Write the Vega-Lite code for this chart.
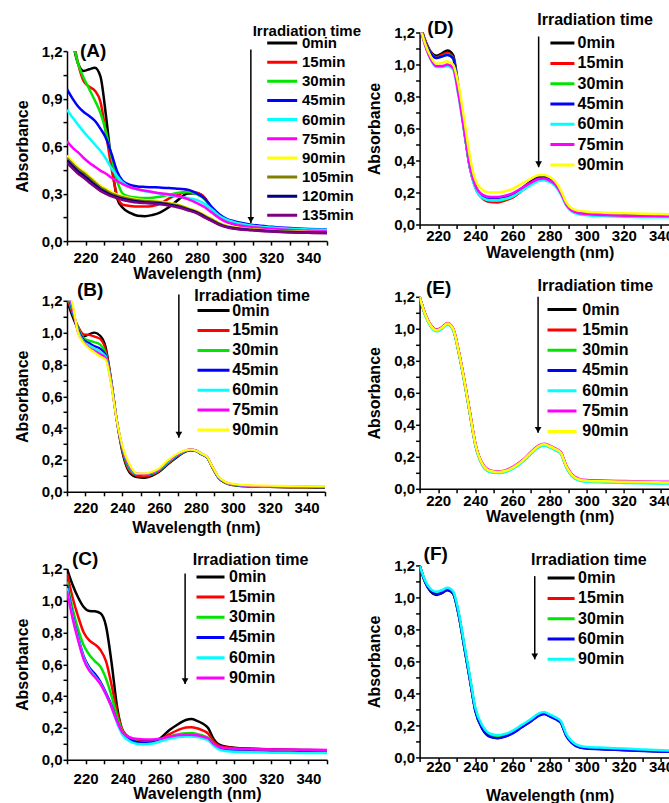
{
"$schema": "https://vega.github.io/schema/vega-lite/v6.json",
"padding": {"left": 14, "top": 11.5, "right": 0, "bottom": 0},
"config": {
  "font": "Liberation Sans",
  "view": {"stroke": null},
  "axis": {"grid": false, "domainColor": "#000000", "domainWidth": 1.5, "tickColor": "#000000", "tickWidth": 1.5, "tickSize": 4, "tickCount": 40, "labelFont": "Liberation Sans", "labelFontSize": 15, "labelFontWeight": "bold", "labelColor": "#000000", "titleFont": "Liberation Sans", "titleFontSize": 16, "titleFontWeight": "bold", "titleColor": "#000000", "labelOverlap": false, "labelFlush": false},
  "legend": {"padding": 0, "labelFont": "Liberation Sans", "labelFontWeight": "bold", "labelColor": "#000000", "titleFont": "Liberation Sans", "titleFontWeight": "bold", "titleColor": "#000000", "symbolType": "stroke", "symbolStrokeWidth": 3},
  "title": {"font": "Liberation Sans", "fontSize": 19, "fontWeight": "bold", "color": "#000000", "anchor": "start", "frame": "group", "baseline": "middle"}
},
"datasets": {
"A": [
{"t":"0min","w":210,"a":1.6},{"t":"0min","w":213,"a":1.28},{"t":"0min","w":216,"a":1.12},{"t":"0min","w":219,"a":1.075},{"t":"0min","w":222,"a":1.085},{"t":"0min","w":225,"a":1.095},{"t":"0min","w":228,"a":1.04},{"t":"0min","w":231,"a":0.79},{"t":"0min","w":234,"a":0.49},{"t":"0min","w":237,"a":0.27},{"t":"0min","w":240,"a":0.21},{"t":"0min","w":244,"a":0.178},{"t":"0min","w":248,"a":0.16},{"t":"0min","w":252,"a":0.157},{"t":"0min","w":256,"a":0.165},{"t":"0min","w":260,"a":0.18},{"t":"0min","w":265,"a":0.215},{"t":"0min","w":270,"a":0.262},{"t":"0min","w":275,"a":0.3},{"t":"0min","w":280,"a":0.302},{"t":"0min","w":284,"a":0.275},{"t":"0min","w":288,"a":0.205},{"t":"0min","w":292,"a":0.152},{"t":"0min","w":296,"a":0.123},{"t":"0min","w":300,"a":0.108},{"t":"0min","w":310,"a":0.088},{"t":"0min","w":320,"a":0.078},{"t":"0min","w":330,"a":0.07},{"t":"0min","w":340,"a":0.065},{"t":"0min","w":350,"a":0.061},
{"t":"15min","w":210,"a":1.5},{"t":"15min","w":213,"a":1.3},{"t":"15min","w":216,"a":1.12},{"t":"15min","w":219,"a":1.01},{"t":"15min","w":222,"a":0.975},{"t":"15min","w":225,"a":0.95},{"t":"15min","w":228,"a":0.88},{"t":"15min","w":231,"a":0.68},{"t":"15min","w":234,"a":0.46},{"t":"15min","w":237,"a":0.285},{"t":"15min","w":240,"a":0.23},{"t":"15min","w":244,"a":0.222},{"t":"15min","w":248,"a":0.218},{"t":"15min","w":252,"a":0.218},{"t":"15min","w":256,"a":0.222},{"t":"15min","w":260,"a":0.235},{"t":"15min","w":265,"a":0.27},{"t":"15min","w":270,"a":0.295},{"t":"15min","w":275,"a":0.315},{"t":"15min","w":280,"a":0.305},{"t":"15min","w":284,"a":0.275},{"t":"15min","w":288,"a":0.205},{"t":"15min","w":292,"a":0.152},{"t":"15min","w":296,"a":0.123},{"t":"15min","w":300,"a":0.108},{"t":"15min","w":310,"a":0.088},{"t":"15min","w":320,"a":0.078},{"t":"15min","w":330,"a":0.07},{"t":"15min","w":340,"a":0.065},{"t":"15min","w":350,"a":0.061},
{"t":"30min","w":210,"a":1.45},{"t":"30min","w":213,"a":1.27},{"t":"30min","w":216,"a":1.12},{"t":"30min","w":219,"a":1.03},{"t":"30min","w":222,"a":0.96},{"t":"30min","w":225,"a":0.888},{"t":"30min","w":228,"a":0.81},{"t":"30min","w":231,"a":0.69},{"t":"30min","w":234,"a":0.53},{"t":"30min","w":237,"a":0.38},{"t":"30min","w":240,"a":0.3},{"t":"30min","w":244,"a":0.28},{"t":"30min","w":248,"a":0.274},{"t":"30min","w":252,"a":0.272},{"t":"30min","w":256,"a":0.274},{"t":"30min","w":260,"a":0.28},{"t":"30min","w":265,"a":0.293},{"t":"30min","w":270,"a":0.305},{"t":"30min","w":275,"a":0.31},{"t":"30min","w":280,"a":0.295},{"t":"30min","w":284,"a":0.265},{"t":"30min","w":288,"a":0.205},{"t":"30min","w":292,"a":0.155},{"t":"30min","w":296,"a":0.127},{"t":"30min","w":300,"a":0.112},{"t":"30min","w":310,"a":0.09},{"t":"30min","w":320,"a":0.08},{"t":"30min","w":330,"a":0.073},{"t":"30min","w":340,"a":0.068},{"t":"30min","w":350,"a":0.064},
{"t":"45min","w":210,"a":0.96},{"t":"45min","w":213,"a":0.9},{"t":"45min","w":216,"a":0.85},{"t":"45min","w":219,"a":0.815},{"t":"45min","w":222,"a":0.79},{"t":"45min","w":225,"a":0.76},{"t":"45min","w":228,"a":0.71},{"t":"45min","w":231,"a":0.65},{"t":"45min","w":234,"a":0.55},{"t":"45min","w":237,"a":0.44},{"t":"45min","w":240,"a":0.38},{"t":"45min","w":244,"a":0.355},{"t":"45min","w":248,"a":0.345},{"t":"45min","w":252,"a":0.342},{"t":"45min","w":256,"a":0.34},{"t":"45min","w":260,"a":0.338},{"t":"45min","w":265,"a":0.335},{"t":"45min","w":270,"a":0.33},{"t":"45min","w":275,"a":0.325},{"t":"45min","w":280,"a":0.3},{"t":"45min","w":284,"a":0.27},{"t":"45min","w":288,"a":0.215},{"t":"45min","w":292,"a":0.17},{"t":"45min","w":296,"a":0.14},{"t":"45min","w":300,"a":0.125},{"t":"45min","w":310,"a":0.102},{"t":"45min","w":320,"a":0.09},{"t":"45min","w":330,"a":0.082},{"t":"45min","w":340,"a":0.077},{"t":"45min","w":350,"a":0.074},
{"t":"60min","w":210,"a":0.83},{"t":"60min","w":213,"a":0.78},{"t":"60min","w":216,"a":0.735},{"t":"60min","w":219,"a":0.69},{"t":"60min","w":222,"a":0.65},{"t":"60min","w":225,"a":0.61},{"t":"60min","w":228,"a":0.57},{"t":"60min","w":231,"a":0.52},{"t":"60min","w":234,"a":0.46},{"t":"60min","w":237,"a":0.41},{"t":"60min","w":240,"a":0.37},{"t":"60min","w":244,"a":0.34},{"t":"60min","w":248,"a":0.325},{"t":"60min","w":252,"a":0.315},{"t":"60min","w":256,"a":0.308},{"t":"60min","w":260,"a":0.3},{"t":"60min","w":265,"a":0.29},{"t":"60min","w":270,"a":0.28},{"t":"60min","w":275,"a":0.272},{"t":"60min","w":280,"a":0.26},{"t":"60min","w":284,"a":0.235},{"t":"60min","w":288,"a":0.2},{"t":"60min","w":292,"a":0.16},{"t":"60min","w":296,"a":0.135},{"t":"60min","w":300,"a":0.12},{"t":"60min","w":310,"a":0.097},{"t":"60min","w":320,"a":0.086},{"t":"60min","w":330,"a":0.078},{"t":"60min","w":340,"a":0.074},{"t":"60min","w":350,"a":0.071},
{"t":"75min","w":210,"a":0.63},{"t":"75min","w":213,"a":0.59},{"t":"75min","w":216,"a":0.56},{"t":"75min","w":219,"a":0.525},{"t":"75min","w":222,"a":0.495},{"t":"75min","w":225,"a":0.47},{"t":"75min","w":228,"a":0.445},{"t":"75min","w":231,"a":0.425},{"t":"75min","w":234,"a":0.4},{"t":"75min","w":237,"a":0.38},{"t":"75min","w":240,"a":0.36},{"t":"75min","w":244,"a":0.34},{"t":"75min","w":248,"a":0.328},{"t":"75min","w":252,"a":0.318},{"t":"75min","w":256,"a":0.31},{"t":"75min","w":260,"a":0.302},{"t":"75min","w":265,"a":0.295},{"t":"75min","w":270,"a":0.285},{"t":"75min","w":275,"a":0.265},{"t":"75min","w":280,"a":0.24},{"t":"75min","w":284,"a":0.215},{"t":"75min","w":288,"a":0.18},{"t":"75min","w":292,"a":0.145},{"t":"75min","w":296,"a":0.12},{"t":"75min","w":300,"a":0.107},{"t":"75min","w":310,"a":0.088},{"t":"75min","w":320,"a":0.078},{"t":"75min","w":330,"a":0.07},{"t":"75min","w":340,"a":0.065},{"t":"75min","w":350,"a":0.061},
{"t":"90min","w":210,"a":0.54},{"t":"90min","w":213,"a":0.5},{"t":"90min","w":216,"a":0.465},{"t":"90min","w":219,"a":0.44},{"t":"90min","w":222,"a":0.41},{"t":"90min","w":225,"a":0.38},{"t":"90min","w":228,"a":0.35},{"t":"90min","w":231,"a":0.33},{"t":"90min","w":234,"a":0.31},{"t":"90min","w":237,"a":0.295},{"t":"90min","w":240,"a":0.284},{"t":"90min","w":244,"a":0.272},{"t":"90min","w":248,"a":0.263},{"t":"90min","w":252,"a":0.258},{"t":"90min","w":256,"a":0.254},{"t":"90min","w":260,"a":0.25},{"t":"90min","w":265,"a":0.24},{"t":"90min","w":270,"a":0.23},{"t":"90min","w":275,"a":0.21},{"t":"90min","w":280,"a":0.19},{"t":"90min","w":284,"a":0.165},{"t":"90min","w":288,"a":0.14},{"t":"90min","w":292,"a":0.115},{"t":"90min","w":296,"a":0.097},{"t":"90min","w":300,"a":0.088},{"t":"90min","w":310,"a":0.075},{"t":"90min","w":320,"a":0.066},{"t":"90min","w":330,"a":0.061},{"t":"90min","w":340,"a":0.058},{"t":"90min","w":350,"a":0.056},
{"t":"105min","w":210,"a":0.525},{"t":"105min","w":213,"a":0.488},{"t":"105min","w":216,"a":0.455},{"t":"105min","w":219,"a":0.43},{"t":"105min","w":222,"a":0.4},{"t":"105min","w":225,"a":0.37},{"t":"105min","w":228,"a":0.34},{"t":"105min","w":231,"a":0.32},{"t":"105min","w":234,"a":0.3},{"t":"105min","w":237,"a":0.287},{"t":"105min","w":240,"a":0.277},{"t":"105min","w":244,"a":0.266},{"t":"105min","w":248,"a":0.258},{"t":"105min","w":252,"a":0.253},{"t":"105min","w":256,"a":0.25},{"t":"105min","w":260,"a":0.246},{"t":"105min","w":265,"a":0.236},{"t":"105min","w":270,"a":0.225},{"t":"105min","w":275,"a":0.205},{"t":"105min","w":280,"a":0.185},{"t":"105min","w":284,"a":0.16},{"t":"105min","w":288,"a":0.135},{"t":"105min","w":292,"a":0.11},{"t":"105min","w":296,"a":0.093},{"t":"105min","w":300,"a":0.084},{"t":"105min","w":310,"a":0.072},{"t":"105min","w":320,"a":0.064},{"t":"105min","w":330,"a":0.059},{"t":"105min","w":340,"a":0.056},{"t":"105min","w":350,"a":0.054},
{"t":"120min","w":210,"a":0.51},{"t":"120min","w":213,"a":0.474},{"t":"120min","w":216,"a":0.44},{"t":"120min","w":219,"a":0.415},{"t":"120min","w":222,"a":0.385},{"t":"120min","w":225,"a":0.356},{"t":"120min","w":228,"a":0.328},{"t":"120min","w":231,"a":0.308},{"t":"120min","w":234,"a":0.29},{"t":"120min","w":237,"a":0.278},{"t":"120min","w":240,"a":0.268},{"t":"120min","w":244,"a":0.258},{"t":"120min","w":248,"a":0.25},{"t":"120min","w":252,"a":0.246},{"t":"120min","w":256,"a":0.243},{"t":"120min","w":260,"a":0.239},{"t":"120min","w":265,"a":0.23},{"t":"120min","w":270,"a":0.218},{"t":"120min","w":275,"a":0.2},{"t":"120min","w":280,"a":0.18},{"t":"120min","w":284,"a":0.155},{"t":"120min","w":288,"a":0.13},{"t":"120min","w":292,"a":0.105},{"t":"120min","w":296,"a":0.09},{"t":"120min","w":300,"a":0.081},{"t":"120min","w":310,"a":0.07},{"t":"120min","w":320,"a":0.062},{"t":"120min","w":330,"a":0.057},{"t":"120min","w":340,"a":0.054},{"t":"120min","w":350,"a":0.052},
{"t":"135min","w":210,"a":0.495},{"t":"135min","w":213,"a":0.46},{"t":"135min","w":216,"a":0.425},{"t":"135min","w":219,"a":0.4},{"t":"135min","w":222,"a":0.37},{"t":"135min","w":225,"a":0.343},{"t":"135min","w":228,"a":0.317},{"t":"135min","w":231,"a":0.298},{"t":"135min","w":234,"a":0.282},{"t":"135min","w":237,"a":0.27},{"t":"135min","w":240,"a":0.26},{"t":"135min","w":244,"a":0.25},{"t":"135min","w":248,"a":0.243},{"t":"135min","w":252,"a":0.24},{"t":"135min","w":256,"a":0.237},{"t":"135min","w":260,"a":0.233},{"t":"135min","w":265,"a":0.224},{"t":"135min","w":270,"a":0.212},{"t":"135min","w":275,"a":0.195},{"t":"135min","w":280,"a":0.175},{"t":"135min","w":284,"a":0.15},{"t":"135min","w":288,"a":0.126},{"t":"135min","w":292,"a":0.102},{"t":"135min","w":296,"a":0.087},{"t":"135min","w":300,"a":0.078},{"t":"135min","w":310,"a":0.068},{"t":"135min","w":320,"a":0.06},{"t":"135min","w":330,"a":0.055},{"t":"135min","w":340,"a":0.052},{"t":"135min","w":350,"a":0.05}
],
"B": [
{"t":"0min","w":210,"a":1.2},{"t":"0min","w":213,"a":1.1},{"t":"0min","w":216,"a":1.02},{"t":"0min","w":219,"a":0.975},{"t":"0min","w":222,"a":0.99},{"t":"0min","w":225,"a":1.0},{"t":"0min","w":228,"a":0.98},{"t":"0min","w":231,"a":0.91},{"t":"0min","w":234,"a":0.7},{"t":"0min","w":237,"a":0.45},{"t":"0min","w":240,"a":0.25},{"t":"0min","w":244,"a":0.12},{"t":"0min","w":248,"a":0.092},{"t":"0min","w":252,"a":0.088},{"t":"0min","w":256,"a":0.1},{"t":"0min","w":260,"a":0.125},{"t":"0min","w":265,"a":0.175},{"t":"0min","w":270,"a":0.22},{"t":"0min","w":274,"a":0.25},{"t":"0min","w":277,"a":0.26},{"t":"0min","w":280,"a":0.255},{"t":"0min","w":283,"a":0.235},{"t":"0min","w":286,"a":0.215},{"t":"0min","w":289,"a":0.15},{"t":"0min","w":292,"a":0.09},{"t":"0min","w":296,"a":0.055},{"t":"0min","w":300,"a":0.042},{"t":"0min","w":310,"a":0.032},{"t":"0min","w":320,"a":0.03},{"t":"0min","w":330,"a":0.028},{"t":"0min","w":340,"a":0.027},{"t":"0min","w":350,"a":0.026},
{"t":"15min","w":210,"a":1.22},{"t":"15min","w":213,"a":1.12},{"t":"15min","w":216,"a":1.04},{"t":"15min","w":219,"a":0.99},{"t":"15min","w":222,"a":0.985},{"t":"15min","w":225,"a":0.975},{"t":"15min","w":228,"a":0.96},{"t":"15min","w":231,"a":0.89},{"t":"15min","w":234,"a":0.7},{"t":"15min","w":237,"a":0.45},{"t":"15min","w":240,"a":0.26},{"t":"15min","w":244,"a":0.13},{"t":"15min","w":248,"a":0.1},{"t":"15min","w":252,"a":0.095},{"t":"15min","w":256,"a":0.105},{"t":"15min","w":260,"a":0.13},{"t":"15min","w":265,"a":0.18},{"t":"15min","w":270,"a":0.225},{"t":"15min","w":274,"a":0.252},{"t":"15min","w":277,"a":0.262},{"t":"15min","w":280,"a":0.256},{"t":"15min","w":283,"a":0.236},{"t":"15min","w":286,"a":0.216},{"t":"15min","w":289,"a":0.15},{"t":"15min","w":292,"a":0.092},{"t":"15min","w":296,"a":0.056},{"t":"15min","w":300,"a":0.043},{"t":"15min","w":310,"a":0.033},{"t":"15min","w":320,"a":0.031},{"t":"15min","w":330,"a":0.029},{"t":"15min","w":340,"a":0.028},{"t":"15min","w":350,"a":0.027},
{"t":"30min","w":210,"a":1.24},{"t":"30min","w":213,"a":1.13},{"t":"30min","w":216,"a":1.03},{"t":"30min","w":219,"a":0.965},{"t":"30min","w":222,"a":0.95},{"t":"30min","w":225,"a":0.94},{"t":"30min","w":228,"a":0.925},{"t":"30min","w":231,"a":0.87},{"t":"30min","w":234,"a":0.69},{"t":"30min","w":237,"a":0.45},{"t":"30min","w":240,"a":0.27},{"t":"30min","w":244,"a":0.14},{"t":"30min","w":248,"a":0.108},{"t":"30min","w":252,"a":0.105},{"t":"30min","w":256,"a":0.112},{"t":"30min","w":260,"a":0.135},{"t":"30min","w":265,"a":0.185},{"t":"30min","w":270,"a":0.228},{"t":"30min","w":274,"a":0.254},{"t":"30min","w":277,"a":0.263},{"t":"30min","w":280,"a":0.257},{"t":"30min","w":283,"a":0.237},{"t":"30min","w":286,"a":0.217},{"t":"30min","w":289,"a":0.152},{"t":"30min","w":292,"a":0.093},{"t":"30min","w":296,"a":0.057},{"t":"30min","w":300,"a":0.044},{"t":"30min","w":310,"a":0.034},{"t":"30min","w":320,"a":0.032},{"t":"30min","w":330,"a":0.03},{"t":"30min","w":340,"a":0.029},{"t":"30min","w":350,"a":0.028},
{"t":"45min","w":210,"a":1.25},{"t":"45min","w":213,"a":1.14},{"t":"45min","w":216,"a":1.02},{"t":"45min","w":219,"a":0.955},{"t":"45min","w":222,"a":0.935},{"t":"45min","w":225,"a":0.915},{"t":"45min","w":228,"a":0.9},{"t":"45min","w":231,"a":0.86},{"t":"45min","w":234,"a":0.69},{"t":"45min","w":237,"a":0.45},{"t":"45min","w":240,"a":0.275},{"t":"45min","w":244,"a":0.15},{"t":"45min","w":248,"a":0.11},{"t":"45min","w":252,"a":0.108},{"t":"45min","w":256,"a":0.115},{"t":"45min","w":260,"a":0.138},{"t":"45min","w":265,"a":0.188},{"t":"45min","w":270,"a":0.23},{"t":"45min","w":274,"a":0.255},{"t":"45min","w":277,"a":0.264},{"t":"45min","w":280,"a":0.258},{"t":"45min","w":283,"a":0.238},{"t":"45min","w":286,"a":0.218},{"t":"45min","w":289,"a":0.153},{"t":"45min","w":292,"a":0.094},{"t":"45min","w":296,"a":0.058},{"t":"45min","w":300,"a":0.045},{"t":"45min","w":310,"a":0.035},{"t":"45min","w":320,"a":0.033},{"t":"45min","w":330,"a":0.031},{"t":"45min","w":340,"a":0.03},{"t":"45min","w":350,"a":0.029},
{"t":"60min","w":210,"a":1.27},{"t":"60min","w":213,"a":1.15},{"t":"60min","w":216,"a":1.01},{"t":"60min","w":219,"a":0.945},{"t":"60min","w":222,"a":0.92},{"t":"60min","w":225,"a":0.9},{"t":"60min","w":228,"a":0.88},{"t":"60min","w":231,"a":0.85},{"t":"60min","w":234,"a":0.69},{"t":"60min","w":237,"a":0.45},{"t":"60min","w":240,"a":0.28},{"t":"60min","w":244,"a":0.155},{"t":"60min","w":248,"a":0.112},{"t":"60min","w":252,"a":0.11},{"t":"60min","w":256,"a":0.118},{"t":"60min","w":260,"a":0.14},{"t":"60min","w":265,"a":0.19},{"t":"60min","w":270,"a":0.232},{"t":"60min","w":274,"a":0.256},{"t":"60min","w":277,"a":0.265},{"t":"60min","w":280,"a":0.259},{"t":"60min","w":283,"a":0.239},{"t":"60min","w":286,"a":0.219},{"t":"60min","w":289,"a":0.154},{"t":"60min","w":292,"a":0.095},{"t":"60min","w":296,"a":0.059},{"t":"60min","w":300,"a":0.046},{"t":"60min","w":310,"a":0.036},{"t":"60min","w":320,"a":0.034},{"t":"60min","w":330,"a":0.032},{"t":"60min","w":340,"a":0.031},{"t":"60min","w":350,"a":0.03},
{"t":"75min","w":210,"a":1.28},{"t":"75min","w":213,"a":1.16},{"t":"75min","w":216,"a":1.0},{"t":"75min","w":219,"a":0.94},{"t":"75min","w":222,"a":0.905},{"t":"75min","w":225,"a":0.885},{"t":"75min","w":228,"a":0.865},{"t":"75min","w":231,"a":0.84},{"t":"75min","w":234,"a":0.68},{"t":"75min","w":237,"a":0.45},{"t":"75min","w":240,"a":0.285},{"t":"75min","w":244,"a":0.16},{"t":"75min","w":248,"a":0.114},{"t":"75min","w":252,"a":0.112},{"t":"75min","w":256,"a":0.12},{"t":"75min","w":260,"a":0.143},{"t":"75min","w":265,"a":0.195},{"t":"75min","w":270,"a":0.235},{"t":"75min","w":274,"a":0.258},{"t":"75min","w":277,"a":0.266},{"t":"75min","w":280,"a":0.26},{"t":"75min","w":283,"a":0.24},{"t":"75min","w":286,"a":0.22},{"t":"75min","w":289,"a":0.155},{"t":"75min","w":292,"a":0.096},{"t":"75min","w":296,"a":0.06},{"t":"75min","w":300,"a":0.047},{"t":"75min","w":310,"a":0.037},{"t":"75min","w":320,"a":0.035},{"t":"75min","w":330,"a":0.033},{"t":"75min","w":340,"a":0.032},{"t":"75min","w":350,"a":0.031},
{"t":"90min","w":210,"a":1.3},{"t":"90min","w":213,"a":1.18},{"t":"90min","w":216,"a":1.0},{"t":"90min","w":219,"a":0.935},{"t":"90min","w":222,"a":0.9},{"t":"90min","w":225,"a":0.875},{"t":"90min","w":228,"a":0.85},{"t":"90min","w":231,"a":0.83},{"t":"90min","w":234,"a":0.67},{"t":"90min","w":237,"a":0.45},{"t":"90min","w":240,"a":0.29},{"t":"90min","w":244,"a":0.17},{"t":"90min","w":248,"a":0.115},{"t":"90min","w":252,"a":0.115},{"t":"90min","w":256,"a":0.125},{"t":"90min","w":260,"a":0.147},{"t":"90min","w":265,"a":0.2},{"t":"90min","w":270,"a":0.24},{"t":"90min","w":274,"a":0.26},{"t":"90min","w":277,"a":0.265},{"t":"90min","w":280,"a":0.258},{"t":"90min","w":283,"a":0.24},{"t":"90min","w":286,"a":0.22},{"t":"90min","w":289,"a":0.156},{"t":"90min","w":292,"a":0.098},{"t":"90min","w":296,"a":0.062},{"t":"90min","w":300,"a":0.05},{"t":"90min","w":310,"a":0.04},{"t":"90min","w":320,"a":0.038},{"t":"90min","w":330,"a":0.036},{"t":"90min","w":340,"a":0.035},{"t":"90min","w":350,"a":0.034}
],
"C": [
{"t":"0min","w":210,"a":1.2},{"t":"0min","w":213,"a":1.1},{"t":"0min","w":216,"a":1.02},{"t":"0min","w":219,"a":0.96},{"t":"0min","w":222,"a":0.935},{"t":"0min","w":225,"a":0.933},{"t":"0min","w":228,"a":0.92},{"t":"0min","w":231,"a":0.84},{"t":"0min","w":234,"a":0.61},{"t":"0min","w":237,"a":0.33},{"t":"0min","w":240,"a":0.18},{"t":"0min","w":244,"a":0.135},{"t":"0min","w":248,"a":0.123},{"t":"0min","w":252,"a":0.118},{"t":"0min","w":256,"a":0.115},{"t":"0min","w":260,"a":0.133},{"t":"0min","w":265,"a":0.185},{"t":"0min","w":270,"a":0.225},{"t":"0min","w":274,"a":0.25},{"t":"0min","w":277,"a":0.256},{"t":"0min","w":280,"a":0.245},{"t":"0min","w":283,"a":0.228},{"t":"0min","w":286,"a":0.2},{"t":"0min","w":289,"a":0.13},{"t":"0min","w":292,"a":0.095},{"t":"0min","w":296,"a":0.082},{"t":"0min","w":300,"a":0.076},{"t":"0min","w":310,"a":0.07},{"t":"0min","w":320,"a":0.066},{"t":"0min","w":330,"a":0.063},{"t":"0min","w":340,"a":0.061},{"t":"0min","w":350,"a":0.06},
{"t":"15min","w":210,"a":1.17},{"t":"15min","w":213,"a":1.02},{"t":"15min","w":216,"a":0.9},{"t":"15min","w":219,"a":0.8},{"t":"15min","w":222,"a":0.75},{"t":"15min","w":225,"a":0.725},{"t":"15min","w":228,"a":0.69},{"t":"15min","w":231,"a":0.62},{"t":"15min","w":234,"a":0.47},{"t":"15min","w":237,"a":0.3},{"t":"15min","w":240,"a":0.185},{"t":"15min","w":244,"a":0.135},{"t":"15min","w":248,"a":0.118},{"t":"15min","w":252,"a":0.11},{"t":"15min","w":256,"a":0.11},{"t":"15min","w":260,"a":0.125},{"t":"15min","w":265,"a":0.16},{"t":"15min","w":270,"a":0.188},{"t":"15min","w":274,"a":0.203},{"t":"15min","w":277,"a":0.205},{"t":"15min","w":280,"a":0.198},{"t":"15min","w":283,"a":0.185},{"t":"15min","w":286,"a":0.165},{"t":"15min","w":289,"a":0.115},{"t":"15min","w":292,"a":0.088},{"t":"15min","w":296,"a":0.078},{"t":"15min","w":300,"a":0.073},{"t":"15min","w":310,"a":0.068},{"t":"15min","w":320,"a":0.064},{"t":"15min","w":330,"a":0.061},{"t":"15min","w":340,"a":0.059},{"t":"15min","w":350,"a":0.058},
{"t":"30min","w":210,"a":1.12},{"t":"30min","w":213,"a":0.95},{"t":"30min","w":216,"a":0.82},{"t":"30min","w":219,"a":0.72},{"t":"30min","w":222,"a":0.66},{"t":"30min","w":225,"a":0.62},{"t":"30min","w":228,"a":0.585},{"t":"30min","w":231,"a":0.51},{"t":"30min","w":234,"a":0.4},{"t":"30min","w":237,"a":0.27},{"t":"30min","w":240,"a":0.175},{"t":"30min","w":244,"a":0.128},{"t":"30min","w":248,"a":0.112},{"t":"30min","w":252,"a":0.108},{"t":"30min","w":256,"a":0.11},{"t":"30min","w":260,"a":0.122},{"t":"30min","w":265,"a":0.145},{"t":"30min","w":270,"a":0.16},{"t":"30min","w":274,"a":0.167},{"t":"30min","w":277,"a":0.168},{"t":"30min","w":280,"a":0.163},{"t":"30min","w":283,"a":0.153},{"t":"30min","w":286,"a":0.138},{"t":"30min","w":289,"a":0.1},{"t":"30min","w":292,"a":0.075},{"t":"30min","w":296,"a":0.066},{"t":"30min","w":300,"a":0.062},{"t":"30min","w":310,"a":0.058},{"t":"30min","w":320,"a":0.055},{"t":"30min","w":330,"a":0.053},{"t":"30min","w":340,"a":0.052},{"t":"30min","w":350,"a":0.051},
{"t":"45min","w":210,"a":1.1},{"t":"45min","w":213,"a":0.91},{"t":"45min","w":216,"a":0.77},{"t":"45min","w":219,"a":0.65},{"t":"45min","w":222,"a":0.58},{"t":"45min","w":225,"a":0.54},{"t":"45min","w":228,"a":0.49},{"t":"45min","w":231,"a":0.42},{"t":"45min","w":234,"a":0.34},{"t":"45min","w":237,"a":0.24},{"t":"45min","w":240,"a":0.165},{"t":"45min","w":244,"a":0.125},{"t":"45min","w":248,"a":0.11},{"t":"45min","w":252,"a":0.105},{"t":"45min","w":256,"a":0.108},{"t":"45min","w":260,"a":0.12},{"t":"45min","w":265,"a":0.138},{"t":"45min","w":270,"a":0.15},{"t":"45min","w":274,"a":0.155},{"t":"45min","w":277,"a":0.155},{"t":"45min","w":280,"a":0.15},{"t":"45min","w":283,"a":0.142},{"t":"45min","w":286,"a":0.13},{"t":"45min","w":289,"a":0.095},{"t":"45min","w":292,"a":0.07},{"t":"45min","w":296,"a":0.06},{"t":"45min","w":300,"a":0.056},{"t":"45min","w":310,"a":0.052},{"t":"45min","w":320,"a":0.05},{"t":"45min","w":330,"a":0.048},{"t":"45min","w":340,"a":0.047},{"t":"45min","w":350,"a":0.046},
{"t":"60min","w":210,"a":1.08},{"t":"60min","w":213,"a":0.9},{"t":"60min","w":216,"a":0.76},{"t":"60min","w":219,"a":0.64},{"t":"60min","w":222,"a":0.57},{"t":"60min","w":225,"a":0.525},{"t":"60min","w":228,"a":0.48},{"t":"60min","w":231,"a":0.41},{"t":"60min","w":234,"a":0.33},{"t":"60min","w":237,"a":0.23},{"t":"60min","w":240,"a":0.155},{"t":"60min","w":244,"a":0.115},{"t":"60min","w":248,"a":0.1},{"t":"60min","w":252,"a":0.098},{"t":"60min","w":256,"a":0.102},{"t":"60min","w":260,"a":0.115},{"t":"60min","w":265,"a":0.132},{"t":"60min","w":270,"a":0.143},{"t":"60min","w":274,"a":0.147},{"t":"60min","w":277,"a":0.147},{"t":"60min","w":280,"a":0.143},{"t":"60min","w":283,"a":0.135},{"t":"60min","w":286,"a":0.123},{"t":"60min","w":289,"a":0.088},{"t":"60min","w":292,"a":0.064},{"t":"60min","w":296,"a":0.054},{"t":"60min","w":300,"a":0.05},{"t":"60min","w":310,"a":0.047},{"t":"60min","w":320,"a":0.045},{"t":"60min","w":330,"a":0.044},{"t":"60min","w":340,"a":0.043},{"t":"60min","w":350,"a":0.042},
{"t":"90min","w":210,"a":1.06},{"t":"90min","w":213,"a":0.89},{"t":"90min","w":216,"a":0.75},{"t":"90min","w":219,"a":0.63},{"t":"90min","w":222,"a":0.56},{"t":"90min","w":225,"a":0.52},{"t":"90min","w":228,"a":0.475},{"t":"90min","w":231,"a":0.41},{"t":"90min","w":234,"a":0.33},{"t":"90min","w":237,"a":0.24},{"t":"90min","w":240,"a":0.17},{"t":"90min","w":244,"a":0.14},{"t":"90min","w":248,"a":0.13},{"t":"90min","w":252,"a":0.128},{"t":"90min","w":256,"a":0.128},{"t":"90min","w":260,"a":0.132},{"t":"90min","w":265,"a":0.145},{"t":"90min","w":270,"a":0.155},{"t":"90min","w":274,"a":0.158},{"t":"90min","w":277,"a":0.158},{"t":"90min","w":280,"a":0.154},{"t":"90min","w":283,"a":0.146},{"t":"90min","w":286,"a":0.135},{"t":"90min","w":289,"a":0.1},{"t":"90min","w":292,"a":0.08},{"t":"90min","w":296,"a":0.073},{"t":"90min","w":300,"a":0.07},{"t":"90min","w":310,"a":0.067},{"t":"90min","w":320,"a":0.065},{"t":"90min","w":330,"a":0.064},{"t":"90min","w":340,"a":0.063},{"t":"90min","w":350,"a":0.062}
],
"D": [
{"t":"0min","w":210,"a":1.26},{"t":"0min","w":213,"a":1.15},{"t":"0min","w":216,"a":1.08},{"t":"0min","w":219,"a":1.055},{"t":"0min","w":222,"a":1.07},{"t":"0min","w":225,"a":1.087},{"t":"0min","w":228,"a":1.06},{"t":"0min","w":231,"a":0.85},{"t":"0min","w":234,"a":0.59},{"t":"0min","w":237,"a":0.36},{"t":"0min","w":240,"a":0.24},{"t":"0min","w":244,"a":0.165},{"t":"0min","w":248,"a":0.143},{"t":"0min","w":252,"a":0.143},{"t":"0min","w":256,"a":0.16},{"t":"0min","w":260,"a":0.18},{"t":"0min","w":265,"a":0.225},{"t":"0min","w":270,"a":0.27},{"t":"0min","w":274,"a":0.295},{"t":"0min","w":277,"a":0.297},{"t":"0min","w":280,"a":0.28},{"t":"0min","w":283,"a":0.255},{"t":"0min","w":286,"a":0.2},{"t":"0min","w":289,"a":0.13},{"t":"0min","w":292,"a":0.095},{"t":"0min","w":296,"a":0.08},{"t":"0min","w":300,"a":0.075},{"t":"0min","w":310,"a":0.068},{"t":"0min","w":320,"a":0.063},{"t":"0min","w":330,"a":0.06},{"t":"0min","w":340,"a":0.058},{"t":"0min","w":350,"a":0.056},
{"t":"15min","w":210,"a":1.26},{"t":"15min","w":213,"a":1.15},{"t":"15min","w":216,"a":1.075},{"t":"15min","w":219,"a":1.045},{"t":"15min","w":222,"a":1.06},{"t":"15min","w":225,"a":1.072},{"t":"15min","w":228,"a":1.045},{"t":"15min","w":231,"a":0.84},{"t":"15min","w":234,"a":0.59},{"t":"15min","w":237,"a":0.36},{"t":"15min","w":240,"a":0.23},{"t":"15min","w":244,"a":0.16},{"t":"15min","w":248,"a":0.14},{"t":"15min","w":252,"a":0.138},{"t":"15min","w":256,"a":0.15},{"t":"15min","w":260,"a":0.168},{"t":"15min","w":265,"a":0.21},{"t":"15min","w":270,"a":0.255},{"t":"15min","w":274,"a":0.285},{"t":"15min","w":277,"a":0.29},{"t":"15min","w":280,"a":0.277},{"t":"15min","w":283,"a":0.252},{"t":"15min","w":286,"a":0.2},{"t":"15min","w":289,"a":0.128},{"t":"15min","w":292,"a":0.092},{"t":"15min","w":296,"a":0.077},{"t":"15min","w":300,"a":0.072},{"t":"15min","w":310,"a":0.065},{"t":"15min","w":320,"a":0.06},{"t":"15min","w":330,"a":0.057},{"t":"15min","w":340,"a":0.055},{"t":"15min","w":350,"a":0.053},
{"t":"30min","w":210,"a":1.26},{"t":"30min","w":213,"a":1.14},{"t":"30min","w":216,"a":1.07},{"t":"30min","w":219,"a":1.04},{"t":"30min","w":222,"a":1.05},{"t":"30min","w":225,"a":1.062},{"t":"30min","w":228,"a":1.04},{"t":"30min","w":231,"a":0.84},{"t":"30min","w":234,"a":0.6},{"t":"30min","w":237,"a":0.37},{"t":"30min","w":240,"a":0.235},{"t":"30min","w":244,"a":0.168},{"t":"30min","w":248,"a":0.15},{"t":"30min","w":252,"a":0.148},{"t":"30min","w":256,"a":0.158},{"t":"30min","w":260,"a":0.175},{"t":"30min","w":265,"a":0.215},{"t":"30min","w":270,"a":0.258},{"t":"30min","w":274,"a":0.286},{"t":"30min","w":277,"a":0.29},{"t":"30min","w":280,"a":0.277},{"t":"30min","w":283,"a":0.252},{"t":"30min","w":286,"a":0.2},{"t":"30min","w":289,"a":0.128},{"t":"30min","w":292,"a":0.09},{"t":"30min","w":296,"a":0.075},{"t":"30min","w":300,"a":0.07},{"t":"30min","w":310,"a":0.063},{"t":"30min","w":320,"a":0.058},{"t":"30min","w":330,"a":0.055},{"t":"30min","w":340,"a":0.053},{"t":"30min","w":350,"a":0.052},
{"t":"45min","w":210,"a":1.26},{"t":"45min","w":213,"a":1.14},{"t":"45min","w":216,"a":1.07},{"t":"45min","w":219,"a":1.04},{"t":"45min","w":222,"a":1.05},{"t":"45min","w":225,"a":1.06},{"t":"45min","w":228,"a":1.04},{"t":"45min","w":231,"a":0.84},{"t":"45min","w":234,"a":0.6},{"t":"45min","w":237,"a":0.37},{"t":"45min","w":240,"a":0.24},{"t":"45min","w":244,"a":0.175},{"t":"45min","w":248,"a":0.16},{"t":"45min","w":252,"a":0.16},{"t":"45min","w":256,"a":0.17},{"t":"45min","w":260,"a":0.185},{"t":"45min","w":265,"a":0.222},{"t":"45min","w":270,"a":0.262},{"t":"45min","w":274,"a":0.288},{"t":"45min","w":277,"a":0.292},{"t":"45min","w":280,"a":0.279},{"t":"45min","w":283,"a":0.254},{"t":"45min","w":286,"a":0.2},{"t":"45min","w":289,"a":0.128},{"t":"45min","w":292,"a":0.09},{"t":"45min","w":296,"a":0.075},{"t":"45min","w":300,"a":0.07},{"t":"45min","w":310,"a":0.063},{"t":"45min","w":320,"a":0.058},{"t":"45min","w":330,"a":0.055},{"t":"45min","w":340,"a":0.053},{"t":"45min","w":350,"a":0.052},
{"t":"60min","w":210,"a":1.24},{"t":"60min","w":213,"a":1.12},{"t":"60min","w":216,"a":1.03},{"t":"60min","w":219,"a":0.985},{"t":"60min","w":222,"a":0.985},{"t":"60min","w":225,"a":0.99},{"t":"60min","w":228,"a":0.97},{"t":"60min","w":231,"a":0.8},{"t":"60min","w":234,"a":0.58},{"t":"60min","w":237,"a":0.36},{"t":"60min","w":240,"a":0.23},{"t":"60min","w":244,"a":0.165},{"t":"60min","w":248,"a":0.152},{"t":"60min","w":252,"a":0.152},{"t":"60min","w":256,"a":0.16},{"t":"60min","w":260,"a":0.175},{"t":"60min","w":265,"a":0.21},{"t":"60min","w":270,"a":0.248},{"t":"60min","w":274,"a":0.272},{"t":"60min","w":277,"a":0.277},{"t":"60min","w":280,"a":0.265},{"t":"60min","w":283,"a":0.242},{"t":"60min","w":286,"a":0.19},{"t":"60min","w":289,"a":0.118},{"t":"60min","w":292,"a":0.08},{"t":"60min","w":296,"a":0.063},{"t":"60min","w":300,"a":0.058},{"t":"60min","w":310,"a":0.052},{"t":"60min","w":320,"a":0.048},{"t":"60min","w":330,"a":0.046},{"t":"60min","w":340,"a":0.045},{"t":"60min","w":350,"a":0.044},
{"t":"75min","w":210,"a":1.24},{"t":"75min","w":213,"a":1.12},{"t":"75min","w":216,"a":1.035},{"t":"75min","w":219,"a":0.99},{"t":"75min","w":222,"a":0.99},{"t":"75min","w":225,"a":1.0},{"t":"75min","w":228,"a":0.98},{"t":"75min","w":231,"a":0.81},{"t":"75min","w":234,"a":0.59},{"t":"75min","w":237,"a":0.37},{"t":"75min","w":240,"a":0.245},{"t":"75min","w":244,"a":0.185},{"t":"75min","w":248,"a":0.172},{"t":"75min","w":252,"a":0.172},{"t":"75min","w":256,"a":0.18},{"t":"75min","w":260,"a":0.195},{"t":"75min","w":265,"a":0.228},{"t":"75min","w":270,"a":0.262},{"t":"75min","w":274,"a":0.285},{"t":"75min","w":277,"a":0.288},{"t":"75min","w":280,"a":0.275},{"t":"75min","w":283,"a":0.25},{"t":"75min","w":286,"a":0.198},{"t":"75min","w":289,"a":0.125},{"t":"75min","w":292,"a":0.087},{"t":"75min","w":296,"a":0.07},{"t":"75min","w":300,"a":0.065},{"t":"75min","w":310,"a":0.059},{"t":"75min","w":320,"a":0.055},{"t":"75min","w":330,"a":0.053},{"t":"75min","w":340,"a":0.052},{"t":"75min","w":350,"a":0.051},
{"t":"90min","w":210,"a":1.25},{"t":"90min","w":213,"a":1.13},{"t":"90min","w":216,"a":1.05},{"t":"90min","w":219,"a":1.005},{"t":"90min","w":222,"a":1.01},{"t":"90min","w":225,"a":1.02},{"t":"90min","w":228,"a":1.0},{"t":"90min","w":231,"a":0.87},{"t":"90min","w":234,"a":0.66},{"t":"90min","w":237,"a":0.43},{"t":"90min","w":240,"a":0.28},{"t":"90min","w":244,"a":0.215},{"t":"90min","w":248,"a":0.2},{"t":"90min","w":252,"a":0.2},{"t":"90min","w":256,"a":0.208},{"t":"90min","w":260,"a":0.222},{"t":"90min","w":265,"a":0.255},{"t":"90min","w":270,"a":0.287},{"t":"90min","w":274,"a":0.308},{"t":"90min","w":277,"a":0.31},{"t":"90min","w":280,"a":0.297},{"t":"90min","w":283,"a":0.27},{"t":"90min","w":286,"a":0.215},{"t":"90min","w":289,"a":0.138},{"t":"90min","w":292,"a":0.1},{"t":"90min","w":296,"a":0.085},{"t":"90min","w":300,"a":0.08},{"t":"90min","w":310,"a":0.074},{"t":"90min","w":320,"a":0.07},{"t":"90min","w":330,"a":0.067},{"t":"90min","w":340,"a":0.065},{"t":"90min","w":350,"a":0.064}
],
"E": [
{"t":"0min","w":210,"a":1.2},{"t":"0min","w":213,"a":1.09},{"t":"0min","w":216,"a":1.02},{"t":"0min","w":219,"a":0.99},{"t":"0min","w":222,"a":1.005},{"t":"0min","w":225,"a":1.032},{"t":"0min","w":228,"a":1.0},{"t":"0min","w":231,"a":0.86},{"t":"0min","w":234,"a":0.68},{"t":"0min","w":237,"a":0.48},{"t":"0min","w":240,"a":0.28},{"t":"0min","w":244,"a":0.15},{"t":"0min","w":248,"a":0.11},{"t":"0min","w":252,"a":0.104},{"t":"0min","w":256,"a":0.11},{"t":"0min","w":260,"a":0.13},{"t":"0min","w":265,"a":0.17},{"t":"0min","w":270,"a":0.225},{"t":"0min","w":274,"a":0.265},{"t":"0min","w":277,"a":0.277},{"t":"0min","w":280,"a":0.265},{"t":"0min","w":283,"a":0.248},{"t":"0min","w":286,"a":0.225},{"t":"0min","w":289,"a":0.14},{"t":"0min","w":292,"a":0.085},{"t":"0min","w":296,"a":0.057},{"t":"0min","w":300,"a":0.05},{"t":"0min","w":310,"a":0.046},{"t":"0min","w":320,"a":0.043},{"t":"0min","w":330,"a":0.041},{"t":"0min","w":340,"a":0.039},{"t":"0min","w":350,"a":0.038},
{"t":"15min","w":210,"a":1.2},{"t":"15min","w":213,"a":1.092},{"t":"15min","w":216,"a":1.022},{"t":"15min","w":219,"a":0.992},{"t":"15min","w":222,"a":1.007},{"t":"15min","w":225,"a":1.034},{"t":"15min","w":228,"a":1.002},{"t":"15min","w":231,"a":0.862},{"t":"15min","w":234,"a":0.682},{"t":"15min","w":237,"a":0.482},{"t":"15min","w":240,"a":0.282},{"t":"15min","w":244,"a":0.152},{"t":"15min","w":248,"a":0.112},{"t":"15min","w":252,"a":0.106},{"t":"15min","w":256,"a":0.112},{"t":"15min","w":260,"a":0.132},{"t":"15min","w":265,"a":0.172},{"t":"15min","w":270,"a":0.227},{"t":"15min","w":274,"a":0.267},{"t":"15min","w":277,"a":0.279},{"t":"15min","w":280,"a":0.267},{"t":"15min","w":283,"a":0.25},{"t":"15min","w":286,"a":0.227},{"t":"15min","w":289,"a":0.142},{"t":"15min","w":292,"a":0.087},{"t":"15min","w":296,"a":0.059},{"t":"15min","w":300,"a":0.052},{"t":"15min","w":310,"a":0.048},{"t":"15min","w":320,"a":0.045},{"t":"15min","w":330,"a":0.043},{"t":"15min","w":340,"a":0.041},{"t":"15min","w":350,"a":0.04},
{"t":"30min","w":210,"a":1.2},{"t":"30min","w":213,"a":1.087},{"t":"30min","w":216,"a":1.017},{"t":"30min","w":219,"a":0.987},{"t":"30min","w":222,"a":1.002},{"t":"30min","w":225,"a":1.029},{"t":"30min","w":228,"a":0.997},{"t":"30min","w":231,"a":0.857},{"t":"30min","w":234,"a":0.677},{"t":"30min","w":237,"a":0.477},{"t":"30min","w":240,"a":0.277},{"t":"30min","w":244,"a":0.147},{"t":"30min","w":248,"a":0.107},{"t":"30min","w":252,"a":0.101},{"t":"30min","w":256,"a":0.107},{"t":"30min","w":260,"a":0.127},{"t":"30min","w":265,"a":0.167},{"t":"30min","w":270,"a":0.222},{"t":"30min","w":274,"a":0.262},{"t":"30min","w":277,"a":0.274},{"t":"30min","w":280,"a":0.262},{"t":"30min","w":283,"a":0.245},{"t":"30min","w":286,"a":0.222},{"t":"30min","w":289,"a":0.137},{"t":"30min","w":292,"a":0.082},{"t":"30min","w":296,"a":0.054},{"t":"30min","w":300,"a":0.047},{"t":"30min","w":310,"a":0.043},{"t":"30min","w":320,"a":0.04},{"t":"30min","w":330,"a":0.038},{"t":"30min","w":340,"a":0.036},{"t":"30min","w":350,"a":0.035},
{"t":"45min","w":210,"a":1.2},{"t":"45min","w":213,"a":1.09},{"t":"45min","w":216,"a":1.019},{"t":"45min","w":219,"a":0.989},{"t":"45min","w":222,"a":1.004},{"t":"45min","w":225,"a":1.031},{"t":"45min","w":228,"a":0.999},{"t":"45min","w":231,"a":0.859},{"t":"45min","w":234,"a":0.679},{"t":"45min","w":237,"a":0.479},{"t":"45min","w":240,"a":0.279},{"t":"45min","w":244,"a":0.149},{"t":"45min","w":248,"a":0.109},{"t":"45min","w":252,"a":0.103},{"t":"45min","w":256,"a":0.109},{"t":"45min","w":260,"a":0.129},{"t":"45min","w":265,"a":0.169},{"t":"45min","w":270,"a":0.224},{"t":"45min","w":274,"a":0.264},{"t":"45min","w":277,"a":0.276},{"t":"45min","w":280,"a":0.264},{"t":"45min","w":283,"a":0.247},{"t":"45min","w":286,"a":0.224},{"t":"45min","w":289,"a":0.139},{"t":"45min","w":292,"a":0.084},{"t":"45min","w":296,"a":0.056},{"t":"45min","w":300,"a":0.049},{"t":"45min","w":310,"a":0.045},{"t":"45min","w":320,"a":0.042},{"t":"45min","w":330,"a":0.04},{"t":"45min","w":340,"a":0.038},{"t":"45min","w":350,"a":0.037},
{"t":"60min","w":210,"a":1.2},{"t":"60min","w":213,"a":1.084},{"t":"60min","w":216,"a":1.014},{"t":"60min","w":219,"a":0.984},{"t":"60min","w":222,"a":0.999},{"t":"60min","w":225,"a":1.026},{"t":"60min","w":228,"a":0.994},{"t":"60min","w":231,"a":0.854},{"t":"60min","w":234,"a":0.674},{"t":"60min","w":237,"a":0.474},{"t":"60min","w":240,"a":0.274},{"t":"60min","w":244,"a":0.144},{"t":"60min","w":248,"a":0.104},{"t":"60min","w":252,"a":0.098},{"t":"60min","w":256,"a":0.104},{"t":"60min","w":260,"a":0.124},{"t":"60min","w":265,"a":0.164},{"t":"60min","w":270,"a":0.219},{"t":"60min","w":274,"a":0.259},{"t":"60min","w":277,"a":0.271},{"t":"60min","w":280,"a":0.259},{"t":"60min","w":283,"a":0.242},{"t":"60min","w":286,"a":0.219},{"t":"60min","w":289,"a":0.134},{"t":"60min","w":292,"a":0.079},{"t":"60min","w":296,"a":0.051},{"t":"60min","w":300,"a":0.044},{"t":"60min","w":310,"a":0.04},{"t":"60min","w":320,"a":0.037},{"t":"60min","w":330,"a":0.035},{"t":"60min","w":340,"a":0.033},{"t":"60min","w":350,"a":0.032},
{"t":"75min","w":210,"a":1.2},{"t":"75min","w":213,"a":1.095},{"t":"75min","w":216,"a":1.025},{"t":"75min","w":219,"a":0.995},{"t":"75min","w":222,"a":1.01},{"t":"75min","w":225,"a":1.037},{"t":"75min","w":228,"a":1.005},{"t":"75min","w":231,"a":0.865},{"t":"75min","w":234,"a":0.685},{"t":"75min","w":237,"a":0.485},{"t":"75min","w":240,"a":0.285},{"t":"75min","w":244,"a":0.155},{"t":"75min","w":248,"a":0.115},{"t":"75min","w":252,"a":0.109},{"t":"75min","w":256,"a":0.115},{"t":"75min","w":260,"a":0.135},{"t":"75min","w":265,"a":0.175},{"t":"75min","w":270,"a":0.23},{"t":"75min","w":274,"a":0.27},{"t":"75min","w":277,"a":0.282},{"t":"75min","w":280,"a":0.27},{"t":"75min","w":283,"a":0.253},{"t":"75min","w":286,"a":0.23},{"t":"75min","w":289,"a":0.145},{"t":"75min","w":292,"a":0.09},{"t":"75min","w":296,"a":0.062},{"t":"75min","w":300,"a":0.055},{"t":"75min","w":310,"a":0.051},{"t":"75min","w":320,"a":0.048},{"t":"75min","w":330,"a":0.046},{"t":"75min","w":340,"a":0.044},{"t":"75min","w":350,"a":0.043},
{"t":"90min","w":210,"a":1.2},{"t":"90min","w":213,"a":1.091},{"t":"90min","w":216,"a":1.021},{"t":"90min","w":219,"a":0.991},{"t":"90min","w":222,"a":1.006},{"t":"90min","w":225,"a":1.033},{"t":"90min","w":228,"a":1.001},{"t":"90min","w":231,"a":0.861},{"t":"90min","w":234,"a":0.681},{"t":"90min","w":237,"a":0.481},{"t":"90min","w":240,"a":0.281},{"t":"90min","w":244,"a":0.151},{"t":"90min","w":248,"a":0.111},{"t":"90min","w":252,"a":0.105},{"t":"90min","w":256,"a":0.111},{"t":"90min","w":260,"a":0.131},{"t":"90min","w":265,"a":0.171},{"t":"90min","w":270,"a":0.226},{"t":"90min","w":274,"a":0.266},{"t":"90min","w":277,"a":0.278},{"t":"90min","w":280,"a":0.266},{"t":"90min","w":283,"a":0.249},{"t":"90min","w":286,"a":0.226},{"t":"90min","w":289,"a":0.141},{"t":"90min","w":292,"a":0.086},{"t":"90min","w":296,"a":0.058},{"t":"90min","w":300,"a":0.051},{"t":"90min","w":310,"a":0.047},{"t":"90min","w":320,"a":0.044},{"t":"90min","w":330,"a":0.042},{"t":"90min","w":340,"a":0.04},{"t":"90min","w":350,"a":0.039}
],
"F": [
{"t":"0min","w":210,"a":1.2},{"t":"0min","w":213,"a":1.095},{"t":"0min","w":216,"a":1.035},{"t":"0min","w":219,"a":1.015},{"t":"0min","w":222,"a":1.027},{"t":"0min","w":225,"a":1.045},{"t":"0min","w":228,"a":1.024},{"t":"0min","w":231,"a":0.893},{"t":"0min","w":234,"a":0.692},{"t":"0min","w":237,"a":0.492},{"t":"0min","w":240,"a":0.292},{"t":"0min","w":244,"a":0.175},{"t":"0min","w":248,"a":0.13},{"t":"0min","w":252,"a":0.122},{"t":"0min","w":256,"a":0.132},{"t":"0min","w":260,"a":0.152},{"t":"0min","w":265,"a":0.19},{"t":"0min","w":270,"a":0.228},{"t":"0min","w":274,"a":0.262},{"t":"0min","w":277,"a":0.273},{"t":"0min","w":280,"a":0.259},{"t":"0min","w":283,"a":0.242},{"t":"0min","w":286,"a":0.219},{"t":"0min","w":289,"a":0.137},{"t":"0min","w":292,"a":0.092},{"t":"0min","w":296,"a":0.065},{"t":"0min","w":300,"a":0.057},{"t":"0min","w":310,"a":0.052},{"t":"0min","w":320,"a":0.047},{"t":"0min","w":330,"a":0.042},{"t":"0min","w":340,"a":0.037},{"t":"0min","w":350,"a":0.033},
{"t":"15min","w":210,"a":1.2},{"t":"15min","w":213,"a":1.098},{"t":"15min","w":216,"a":1.042},{"t":"15min","w":219,"a":1.022},{"t":"15min","w":222,"a":1.033},{"t":"15min","w":225,"a":1.05},{"t":"15min","w":228,"a":1.028},{"t":"15min","w":231,"a":0.898},{"t":"15min","w":234,"a":0.698},{"t":"15min","w":237,"a":0.498},{"t":"15min","w":240,"a":0.298},{"t":"15min","w":244,"a":0.182},{"t":"15min","w":248,"a":0.137},{"t":"15min","w":252,"a":0.126},{"t":"15min","w":256,"a":0.136},{"t":"15min","w":260,"a":0.156},{"t":"15min","w":265,"a":0.193},{"t":"15min","w":270,"a":0.23},{"t":"15min","w":274,"a":0.263},{"t":"15min","w":277,"a":0.274},{"t":"15min","w":280,"a":0.26},{"t":"15min","w":283,"a":0.243},{"t":"15min","w":286,"a":0.22},{"t":"15min","w":289,"a":0.138},{"t":"15min","w":292,"a":0.093},{"t":"15min","w":296,"a":0.066},{"t":"15min","w":300,"a":0.058},{"t":"15min","w":310,"a":0.053},{"t":"15min","w":320,"a":0.048},{"t":"15min","w":330,"a":0.043},{"t":"15min","w":340,"a":0.038},{"t":"15min","w":350,"a":0.034},
{"t":"30min","w":210,"a":1.2},{"t":"30min","w":213,"a":1.1},{"t":"30min","w":216,"a":1.045},{"t":"30min","w":219,"a":1.025},{"t":"30min","w":222,"a":1.035},{"t":"30min","w":225,"a":1.052},{"t":"30min","w":228,"a":1.03},{"t":"30min","w":231,"a":0.9},{"t":"30min","w":234,"a":0.7},{"t":"30min","w":237,"a":0.5},{"t":"30min","w":240,"a":0.3},{"t":"30min","w":244,"a":0.185},{"t":"30min","w":248,"a":0.14},{"t":"30min","w":252,"a":0.128},{"t":"30min","w":256,"a":0.138},{"t":"30min","w":260,"a":0.158},{"t":"30min","w":265,"a":0.195},{"t":"30min","w":270,"a":0.232},{"t":"30min","w":274,"a":0.265},{"t":"30min","w":277,"a":0.276},{"t":"30min","w":280,"a":0.262},{"t":"30min","w":283,"a":0.245},{"t":"30min","w":286,"a":0.222},{"t":"30min","w":289,"a":0.14},{"t":"30min","w":292,"a":0.095},{"t":"30min","w":296,"a":0.068},{"t":"30min","w":300,"a":0.06},{"t":"30min","w":310,"a":0.055},{"t":"30min","w":320,"a":0.05},{"t":"30min","w":330,"a":0.045},{"t":"30min","w":340,"a":0.04},{"t":"30min","w":350,"a":0.036},
{"t":"60min","w":210,"a":1.2},{"t":"60min","w":213,"a":1.097},{"t":"60min","w":216,"a":1.04},{"t":"60min","w":219,"a":1.02},{"t":"60min","w":222,"a":1.03},{"t":"60min","w":225,"a":1.048},{"t":"60min","w":228,"a":1.026},{"t":"60min","w":231,"a":0.895},{"t":"60min","w":234,"a":0.695},{"t":"60min","w":237,"a":0.495},{"t":"60min","w":240,"a":0.293},{"t":"60min","w":244,"a":0.175},{"t":"60min","w":248,"a":0.128},{"t":"60min","w":252,"a":0.12},{"t":"60min","w":256,"a":0.13},{"t":"60min","w":260,"a":0.15},{"t":"60min","w":265,"a":0.188},{"t":"60min","w":270,"a":0.226},{"t":"60min","w":274,"a":0.26},{"t":"60min","w":277,"a":0.271},{"t":"60min","w":280,"a":0.257},{"t":"60min","w":283,"a":0.24},{"t":"60min","w":286,"a":0.217},{"t":"60min","w":289,"a":0.135},{"t":"60min","w":292,"a":0.09},{"t":"60min","w":296,"a":0.063},{"t":"60min","w":300,"a":0.055},{"t":"60min","w":310,"a":0.05},{"t":"60min","w":320,"a":0.045},{"t":"60min","w":330,"a":0.04},{"t":"60min","w":340,"a":0.036},{"t":"60min","w":350,"a":0.033},
{"t":"90min","w":210,"a":1.2},{"t":"90min","w":213,"a":1.105},{"t":"90min","w":216,"a":1.052},{"t":"90min","w":219,"a":1.035},{"t":"90min","w":222,"a":1.045},{"t":"90min","w":225,"a":1.06},{"t":"90min","w":228,"a":1.038},{"t":"90min","w":231,"a":0.91},{"t":"90min","w":234,"a":0.712},{"t":"90min","w":237,"a":0.512},{"t":"90min","w":240,"a":0.31},{"t":"90min","w":244,"a":0.195},{"t":"90min","w":248,"a":0.148},{"t":"90min","w":252,"a":0.138},{"t":"90min","w":256,"a":0.147},{"t":"90min","w":260,"a":0.166},{"t":"90min","w":265,"a":0.203},{"t":"90min","w":270,"a":0.24},{"t":"90min","w":274,"a":0.273},{"t":"90min","w":277,"a":0.283},{"t":"90min","w":280,"a":0.269},{"t":"90min","w":283,"a":0.252},{"t":"90min","w":286,"a":0.229},{"t":"90min","w":289,"a":0.147},{"t":"90min","w":292,"a":0.1},{"t":"90min","w":296,"a":0.073},{"t":"90min","w":300,"a":0.065},{"t":"90min","w":310,"a":0.06},{"t":"90min","w":320,"a":0.055},{"t":"90min","w":330,"a":0.05},{"t":"90min","w":340,"a":0.045},{"t":"90min","w":350,"a":0.041}
]
},
"resolve": {"scale": {"color": "independent"}, "legend": {"color": "independent"}},
"spacing": 4.6,
"hconcat": [
{
"spacing": -10.4,
"resolve": {"scale": {"color": "independent"}, "legend": {"color": "independent"}},
"vconcat": [
{"width": 260, "height": 1, "data": {"values": []}, "mark": "point"},
{
"spacing": -1.3,
"resolve": {"scale": {"color": "independent"}, "legend": {"color": "independent"}},
"vconcat": [
{
"width": 260, "height": 190,
"title": {"text": "(A)", "dx": 13, "offset": -37.4},
"layer": [
{"data": {"name": "A"}, "mark": {"type": "line", "interpolate": "monotone", "strokeWidth": 2.5, "clip": true},
 "encoding": {
  "x": {"field": "w", "type": "quantitative", "title": "Wavelength (nm)", "scale": {"domain": [210, 350], "nice": false, "zero": false}, "axis": {"values": [210,220,230,240,250,260,270,280,290,300,310,320,330,340,350], "tickCount": 40, "labelExpr": "datum.value % 20 == 0 ? datum.label : ''", "labelOverlap": false, "labelPadding": 5.8, "titlePadding": -0.9}},
  "y": {"field": "a", "type": "quantitative", "title": "Absorbance", "scale": {"domain": [0, 1.2], "nice": false, "zero": false}, "axis": {"values": [0,0.15,0.3,0.45,0.6,0.75,0.9,1.05,1.2], "tickCount": 40, "labelExpr": "round(datum.value*100) % 30 == 0 ? replace(format(datum.value, '.1f'), '.', ',') : ''", "labelOverlap": false, "labelPadding": 1, "titlePadding": 11}},
  "color": {"field": "t", "type": "nominal", "scale": {"domain": ["0min","15min","30min","45min","60min","75min","90min","105min","120min","135min"], "range": ["#000000","#ff0000","#00e600","#0000ff","#00ffff","#ff00ff","#ffff00","#808000","#000080","#800080"]},
   "legend": {"title": "Irradiation time", "orient": "none", "legendX": 185.7, "legendY": -27.4, "symbolSize": 900, "symbolOffset": 13, "labelOffset": 3.3, "clipHeight": 15, "titleFontSize": 15, "labelFontSize": 15, "titlePadding": -3.2, "rowPadding": 3.15}}
 }},
{"data": {"values": [{"w": 309, "a": 1.21, "a2": 0.115}]}, "mark": {"type": "rule", "color": "#000000", "strokeWidth": 1.5},
 "encoding": {"x": {"field": "w", "type": "quantitative", "title": "Wavelength (nm)"}, "y": {"field": "a", "type": "quantitative", "title": "Absorbance"}, "y2": {"field": "a2"}}},
{"data": {"values": [{"w": 309, "a": 0.115}]}, "mark": {"type": "point", "shape": "triangle-down", "filled": true, "color": "#000000", "opacity": 1, "size": 45, "yOffset": -3},
 "encoding": {"x": {"field": "w", "type": "quantitative", "title": "Wavelength (nm)"}, "y": {"field": "a", "type": "quantitative", "title": "Absorbance"}}}
]
},
{
"spacing": 13,
"resolve": {"scale": {"color": "independent"}, "legend": {"color": "independent"}},
"vconcat": [
{
"width": 258, "height": 191,
"title": {"text": "(B)", "dx": 10, "offset": -11.7},
"layer": [
{"data": {"name": "B"}, "mark": {"type": "line", "interpolate": "monotone", "strokeWidth": 2.2, "clip": true},
 "encoding": {
  "x": {"field": "w", "type": "quantitative", "title": "Wavelength (nm)", "scale": {"domain": [210, 350], "nice": false, "zero": false}, "axis": {"values": [210,220,230,240,250,260,270,280,290,300,310,320,330,340,350], "tickCount": 40, "labelExpr": "datum.value % 20 == 0 ? datum.label : ''", "labelOverlap": false, "labelPadding": 4.8, "titlePadding": 4.1}},
  "y": {"field": "a", "type": "quantitative", "title": "Absorbance", "scale": {"domain": [0, 1.2], "nice": false, "zero": false}, "axis": {"values": [0,0.1,0.2,0.3,0.4,0.5,0.6,0.7,0.8,0.9,1,1.1,1.2], "tickCount": 40, "labelExpr": "round(datum.value*10) % 2 == 0 ? replace(format(datum.value, '.1f'), '.', ',') : ''", "labelOverlap": false, "labelPadding": 1, "titlePadding": 11}},
  "color": {"field": "t", "type": "nominal", "scale": {"domain": ["0min","15min","30min","45min","60min","75min","90min"], "range": ["#000000","#ff0000","#00e600","#0000ff","#00ffff","#ff00ff","#ffff00"]},
   "legend": {"title": "Irradiation time", "orient": "none", "legendX": 127.3, "legendY": -13, "symbolSize": 1024, "symbolOffset": 1.7, "labelOffset": 1.3, "clipHeight": 16, "titleFontSize": 16, "labelFontSize": 16, "titlePadding": -1.2, "rowPadding": 3.9}}
 }},
{"data": {"values": [{"w": 270.7, "a": 1.24, "a2": 0.34}]}, "mark": {"type": "rule", "color": "#000000", "strokeWidth": 1.5},
 "encoding": {"x": {"field": "w", "type": "quantitative", "title": "Wavelength (nm)"}, "y": {"field": "a", "type": "quantitative", "title": "Absorbance"}, "y2": {"field": "a2"}}},
{"data": {"values": [{"w": 270.7, "a": 0.34}]}, "mark": {"type": "point", "shape": "triangle-down", "filled": true, "color": "#000000", "opacity": 1, "size": 45, "yOffset": -3},
 "encoding": {"x": {"field": "w", "type": "quantitative", "title": "Wavelength (nm)"}, "y": {"field": "a", "type": "quantitative", "title": "Absorbance"}}}
]
},
{
"width": 260, "height": 191,
"title": {"text": "(C)", "dx": 5, "offset": -16.3},
"layer": [
{"data": {"name": "C"}, "mark": {"type": "line", "interpolate": "monotone", "strokeWidth": 2.5, "clip": true},
 "encoding": {
  "x": {"field": "w", "type": "quantitative", "title": "Wavelength (nm)", "scale": {"domain": [210, 350], "nice": false, "zero": false}, "axis": {"values": [210,220,230,240,250,260,270,280,290,300,310,320,330,340,350], "tickCount": 40, "labelExpr": "datum.value % 20 == 0 ? datum.label : ''", "labelOverlap": false, "labelPadding": 7.5, "titlePadding": -0.6}},
  "y": {"field": "a", "type": "quantitative", "title": "Absorbance", "scale": {"domain": [0, 1.2], "nice": false, "zero": false}, "axis": {"values": [0,0.1,0.2,0.3,0.4,0.5,0.6,0.7,0.8,0.9,1,1.1,1.2], "tickCount": 40, "labelExpr": "round(datum.value*10) % 2 == 0 ? replace(format(datum.value, '.1f'), '.', ',') : ''", "labelOverlap": false, "labelPadding": 1, "titlePadding": 11}},
  "color": {"field": "t", "type": "nominal", "scale": {"domain": ["0min","15min","30min","45min","60min","90min"], "range": ["#000000","#ff0000","#00e600","#0000ff","#00ffff","#ff00ff"]},
   "legend": {"title": "Irradiation time", "orient": "none", "legendX": 125.7, "legendY": -16.5, "symbolSize": 784, "symbolOffset": 2.3, "labelOffset": 3, "clipHeight": 16, "titleFontSize": 16, "labelFontSize": 16, "titlePadding": 0.6, "rowPadding": 4.2}}
 }},
{"data": {"values": [{"w": 273.6, "a": 1.17, "a2": 0.476}]}, "mark": {"type": "rule", "color": "#000000", "strokeWidth": 1.5},
 "encoding": {"x": {"field": "w", "type": "quantitative", "title": "Wavelength (nm)"}, "y": {"field": "a", "type": "quantitative", "title": "Absorbance"}, "y2": {"field": "a2"}}},
{"data": {"values": [{"w": 273.6, "a": 0.476}]}, "mark": {"type": "point", "shape": "triangle-down", "filled": true, "color": "#000000", "opacity": 1, "size": 45, "yOffset": -3},
 "encoding": {"x": {"field": "w", "type": "quantitative", "title": "Wavelength (nm)"}, "y": {"field": "a", "type": "quantitative", "title": "Absorbance"}}}
]
}
]
}
]
}
]
},
{
"spacing": 17.3,
"resolve": {"scale": {"color": "independent"}, "legend": {"color": "independent"}},
"vconcat": [
{
"width": 260, "height": 192,
"title": {"text": "(D)", "dx": 7.7, "offset": -25.5},
"layer": [
{"data": {"name": "D"}, "mark": {"type": "line", "interpolate": "monotone", "strokeWidth": 2.5, "clip": true},
 "encoding": {
  "x": {"field": "w", "type": "quantitative", "title": "Wavelength (nm)", "scale": {"domain": [210, 350], "nice": false, "zero": false}, "axis": {"values": [210,220,230,240,250,260,270,280,290,300,310,320,330,340,350], "tickCount": 40, "labelExpr": "datum.value % 20 == 0 ? datum.label : ''", "labelOverlap": false, "labelPadding": 0, "titlePadding": 0.6}},
  "y": {"field": "a", "type": "quantitative", "title": "Absorbance", "scale": {"domain": [0, 1.2], "nice": false, "zero": false}, "axis": {"values": [0,0.1,0.2,0.3,0.4,0.5,0.6,0.7,0.8,0.9,1,1.1,1.2], "tickCount": 40, "labelExpr": "round(datum.value*10) % 2 == 0 ? replace(format(datum.value, '.1f'), '.', ',') : ''", "labelOverlap": false, "labelPadding": 1, "titlePadding": 11}},
  "color": {"field": "t", "type": "nominal", "scale": {"domain": ["0min","15min","30min","45min","60min","75min","90min"], "range": ["#000000","#ff0000","#00e600","#0000ff","#00ffff","#ff00ff","#ffff00"]},
   "legend": {"title": "Irradiation time", "orient": "none", "legendX": 117.7, "legendY": -20.5, "symbolSize": 576, "symbolOffset": 11.6, "labelOffset": 1.7, "clipHeight": 16, "titleFontSize": 16, "labelFontSize": 16, "titlePadding": 7.1, "rowPadding": 4.3}}
 }},
{"data": {"values": [{"w": 274.1, "a": 1.175, "a2": 0.358}]}, "mark": {"type": "rule", "color": "#000000", "strokeWidth": 1.5},
 "encoding": {"x": {"field": "w", "type": "quantitative", "title": "Wavelength (nm)"}, "y": {"field": "a", "type": "quantitative", "title": "Absorbance"}, "y2": {"field": "a2"}}},
{"data": {"values": [{"w": 274.1, "a": 0.358}]}, "mark": {"type": "point", "shape": "triangle-down", "filled": true, "color": "#000000", "opacity": 1, "size": 45, "yOffset": -3},
 "encoding": {"x": {"field": "w", "type": "quantitative", "title": "Wavelength (nm)"}, "y": {"field": "a", "type": "quantitative", "title": "Absorbance"}}}
]
},
{
"spacing": 20.6,
"resolve": {"scale": {"color": "independent"}, "legend": {"color": "independent"}},
"vconcat": [
{
"width": 260, "height": 192,
"title": {"text": "(E)", "dx": 6.3, "offset": -19.5},
"layer": [
{"data": {"name": "E"}, "mark": {"type": "line", "interpolate": "monotone", "strokeWidth": 2.5, "clip": true},
 "encoding": {
  "x": {"field": "w", "type": "quantitative", "title": "Wavelength (nm)", "scale": {"domain": [210, 350], "nice": false, "zero": false}, "axis": {"values": [210,220,230,240,250,260,270,280,290,300,310,320,330,340,350], "tickCount": 40, "labelExpr": "datum.value % 20 == 0 ? datum.label : ''", "labelOverlap": false, "labelPadding": 0.8, "titlePadding": -0.2}},
  "y": {"field": "a", "type": "quantitative", "title": "Absorbance", "scale": {"domain": [0, 1.2], "nice": false, "zero": false}, "axis": {"values": [0,0.1,0.2,0.3,0.4,0.5,0.6,0.7,0.8,0.9,1,1.1,1.2], "tickCount": 40, "labelExpr": "round(datum.value*10) % 2 == 0 ? replace(format(datum.value, '.1f'), '.', ',') : ''", "labelOverlap": false, "labelPadding": 1, "titlePadding": 11}},
  "color": {"field": "t", "type": "nominal", "scale": {"domain": ["0min","15min","30min","45min","60min","75min","90min"], "range": ["#000000","#ff0000","#00e600","#0000ff","#00ffff","#ff00ff","#ffff00"]},
   "legend": {"title": "Irradiation time", "orient": "none", "legendX": 118, "legendY": -18.5, "symbolSize": 841, "symbolOffset": 8.4, "labelOffset": 4.3, "clipHeight": 16, "titleFontSize": 16, "labelFontSize": 16, "titlePadding": 7.3, "rowPadding": 4.3}}
 }},
{"data": {"values": [{"w": 273.8, "a": 1.2, "a2": 0.35}]}, "mark": {"type": "rule", "color": "#000000", "strokeWidth": 1.5},
 "encoding": {"x": {"field": "w", "type": "quantitative", "title": "Wavelength (nm)"}, "y": {"field": "a", "type": "quantitative", "title": "Absorbance"}, "y2": {"field": "a2"}}},
{"data": {"values": [{"w": 273.8, "a": 0.35}]}, "mark": {"type": "point", "shape": "triangle-down", "filled": true, "color": "#000000", "opacity": 1, "size": 45, "yOffset": -3},
 "encoding": {"x": {"field": "w", "type": "quantitative", "title": "Wavelength (nm)"}, "y": {"field": "a", "type": "quantitative", "title": "Absorbance"}}}
]
},
{
"width": 260, "height": 192,
"title": {"text": "(F)", "dx": 4, "offset": -12.3},
"layer": [
{"data": {"name": "F"}, "mark": {"type": "line", "interpolate": "monotone", "strokeWidth": 2.5, "clip": true},
 "encoding": {
  "x": {"field": "w", "type": "quantitative", "title": "Wavelength (nm)", "scale": {"domain": [210, 350], "nice": false, "zero": false}, "axis": {"values": [210,220,230,240,250,260,270,280,290,300,310,320,330,340,350], "tickCount": 40, "labelExpr": "datum.value % 20 == 0 ? datum.label : ''", "labelOverlap": false, "labelPadding": -1.5, "titlePadding": 12.6}},
  "y": {"field": "a", "type": "quantitative", "title": "Absorbance", "scale": {"domain": [0, 1.2], "nice": false, "zero": false}, "axis": {"values": [0,0.1,0.2,0.3,0.4,0.5,0.6,0.7,0.8,0.9,1,1.1,1.2], "tickCount": 40, "labelExpr": "round(datum.value*10) % 2 == 0 ? replace(format(datum.value, '.1f'), '.', ',') : ''", "labelOverlap": false, "labelPadding": 1, "titlePadding": 11}},
  "color": {"field": "t", "type": "nominal", "scale": {"domain": ["0min","15min","30min","60min","90min"], "range": ["#000000","#ff0000","#00e600","#0000ff","#00ffff"]},
   "legend": {"title": "Irradiation time", "orient": "none", "legendX": 111.5, "legendY": -13.3, "symbolSize": 729, "symbolOffset": 15, "labelOffset": 2, "clipHeight": 16, "titleFontSize": 16, "labelFontSize": 16, "titlePadding": 2, "rowPadding": 4.3}}
 }},
{"data": {"values": [{"w": 272, "a": 1.133, "a2": 0.6125}]}, "mark": {"type": "rule", "color": "#000000", "strokeWidth": 1.5},
 "encoding": {"x": {"field": "w", "type": "quantitative", "title": "Wavelength (nm)"}, "y": {"field": "a", "type": "quantitative", "title": "Absorbance"}, "y2": {"field": "a2"}}},
{"data": {"values": [{"w": 272, "a": 0.6125}]}, "mark": {"type": "point", "shape": "triangle-down", "filled": true, "color": "#000000", "opacity": 1, "size": 45, "yOffset": -3},
 "encoding": {"x": {"field": "w", "type": "quantitative", "title": "Wavelength (nm)"}, "y": {"field": "a", "type": "quantitative", "title": "Absorbance"}}}
]
}
]
}
]
}
]
}
